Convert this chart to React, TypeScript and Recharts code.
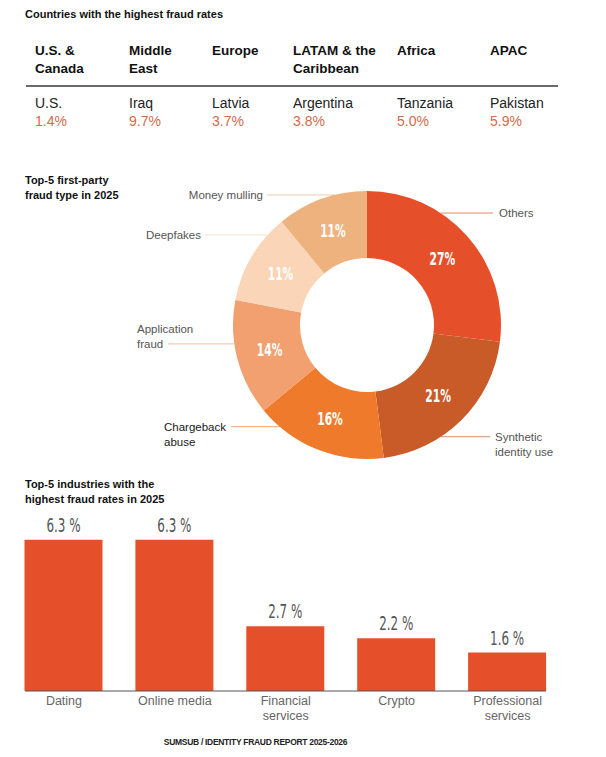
import { PieChart, Pie, Cell, BarChart, Bar, XAxis, YAxis, LabelList } from "recharts"

// Countries table
const regions = ["U.S. &\nCanada", "Middle\nEast", "Europe", "LATAM & the\nCaribbean", "Africa", "APAC"]
const topCountries = ["U.S.", "Iraq", "Latvia", "Argentina", "Tanzania", "Pakistan"]
const countryRates = [1.4, 9.7, 3.7, 3.8, 5.0, 5.9]

// Donut: first-party fraud types (%)
const fraudTypes = ["Others", "Synthetic identity use", "Chargeback abuse", "Application fraud", "Deepfakes", "Money mulling"]
const fraudShares = [27, 21, 16, 14, 11, 11]

// Bars: industries (%)
const industries = ["Dating", "Online media", "Financial services", "Crypto", "Professional services"]
const industryRates = [6.3, 6.3, 2.7, 2.2, 1.6]

const SANS = "'Liberation Sans', Arial, sans-serif"
const NARROW = "'DejaVu Sans Condensed', 'DejaVu Sans', sans-serif"
const BAR_COLOR = "#E5502A"
const SLICE_COLORS = ["#E5502A", "#C85B28", "#F07A2C", "#F2A070", "#FBD5B8", "#EEB27F"]
const COL_X = [35, 129, 212, 293, 397, 490]

// where each callout sits around the donut
const CALLOUTS = [
  { angle: 56.7, textX: 499, lineX: 493, anchor: "start", wrap: false, row: 0, color: "#555" },
  { angle: -56.5, textX: 495, lineX: 490, anchor: "start", wrap: true, row: 0, color: "#555" },
  { angle: 229.4, textX: 164, lineX: 231, anchor: "start", wrap: true, row: 0, color: "#1a1a1a" },
  { angle: 188.1, textX: 137, lineX: 168, anchor: "start", wrap: true, row: 1, color: "#555" },
  { angle: 137.8, textX: 201, lineX: 205, anchor: "end", wrap: false, row: 0, color: "#555" },
  { angle: 104, textX: 263, lineX: 267, anchor: "end", wrap: false, row: 0, color: "#555" },
]

const RAD = Math.PI / 180

const pieData = fraudTypes.map((name, i) => ({ name, value: fraudShares[i] }))
const barData = industries.map((name, i) => ({ name, value: industryRates[i] }))

function SliceLabel(props: any) {
  const { cx, cy, midAngle, innerRadius, outerRadius, index, name, value } = props
  const r = (innerRadius + outerRadius) / 2
  const x = cx + r * Math.cos(-midAngle * RAD)
  const y = cy + r * Math.sin(-midAngle * RAD)
  const c = CALLOUTS[index]
  const ly = cy - outerRadius * Math.sin(c.angle * RAD)
  const edgeX = cx + outerRadius * Math.cos(c.angle * RAD)
  const lines = c.wrap ? [name.slice(0, name.indexOf(" ")), name.slice(name.indexOf(" ") + 1)] : [name]
  return (
    <g>
      <text transform={`translate(${x},${y}) scale(0.7,1)`} fill="#fff" textAnchor="middle" dominantBaseline="central"
        fontFamily={NARROW} fontWeight={700} fontSize={17}>
        {value}%
      </text>
      <line x1={c.lineX} x2={edgeX} y1={ly} y2={ly} stroke={SLICE_COLORS[index]} strokeOpacity={0.7} strokeWidth={1} />
      {lines.map((t, k) => (
        <text key={k} x={c.textX} y={ly + (k - c.row) * 15} fill={c.color} textAnchor={c.anchor}
          dominantBaseline="central" fontFamily={SANS} fontSize={11.5}>
          {t}
        </text>
      ))}
    </g>
  )
}

function ValueLabel({ x, y, width, value }: any) {
  return (
    <text transform={`translate(${x + width / 2},${y - 8}) scale(0.7,1)`} textAnchor="middle"
      fill="#555" fontFamily={NARROW} fontSize={19}>
      {value} %
    </text>
  )
}

function IndustryTick({ x, y, payload }: any) {
  const name: string = payload.value
  const lines = name.includes(" services") ? [name.replace(" services", ""), "services"] : [name]
  return (
    <g>
      {lines.map((t, k) => (
        <text key={k} x={x} y={y + 8 + k * 15} textAnchor="middle" dominantBaseline="central"
          fill="#666" fontFamily={SANS} fontSize={12.5}>
          {t}
        </text>
      ))}
    </g>
  )
}

export default function App() {
  return (
    <div style={{ position: "absolute", left: 0, top: 0, width: 606, height: 757, background: "#fff", overflow: "hidden", fontFamily: SANS }}>
      <div style={{ position: "absolute", left: 25, top: 8, fontSize: 11, fontWeight: 700, color: "#111" }}>
        Countries with the highest fraud rates
      </div>

      {regions.map((r, i) => (
        <div key={r} style={{ position: "absolute", left: COL_X[i], top: 42, fontSize: 13.5, lineHeight: "17.5px", whiteSpace: "pre-line", color: "#111", fontWeight: 700 }}>
          {r}
        </div>
      ))}
      <div style={{ position: "absolute", left: 26, top: 85, width: 532, height: 1.5, background: "#6b6b6b" }} />
      {topCountries.map((c, i) => (
        <div key={c} style={{ position: "absolute", left: COL_X[i], top: 95, fontSize: 14, lineHeight: "17.5px", color: "#222" }}>
          {c}
          <div style={{ color: "#D26A4B" }}>{countryRates[i].toFixed(1)}%</div>
        </div>
      ))}

      <div style={{ position: "absolute", left: 25, top: 173, fontSize: 11, lineHeight: "15px", fontWeight: 700, color: "#111" }}>
        Top-5 first-party<br />fraud type in 2025
      </div>
      <div style={{ position: "absolute", left: 0, top: 160 }}>
        <PieChart width={606} height={310} margin={{ top: 0, right: 0, bottom: 0, left: 0 }}>
          <Pie data={pieData} dataKey="value" nameKey="name" cx={367} cy={165} innerRadius={67} outerRadius={134}
            startAngle={90} endAngle={-270} stroke="none" label={SliceLabel} labelLine={false} isAnimationActive={false}>
            {pieData.map((d, i) => (
              <Cell key={d.name} fill={SLICE_COLORS[i]} />
            ))}
          </Pie>
        </PieChart>
      </div>

      <div style={{ position: "absolute", left: 25, top: 477, fontSize: 11, lineHeight: "14.5px", fontWeight: 700, color: "#111" }}>
        Top-5 industries with the<br />highest fraud rates in 2025
      </div>
      <div style={{ position: "absolute", left: 0, top: 470 }}>
        <BarChart width={606} height={287} data={barData} margin={{ top: 53, right: 60, bottom: 36, left: 25 }}>
          <XAxis dataKey="name" interval={0} axisLine={{ stroke: "#555" }} tickLine={false} tickSize={0}
            padding={{ left: -16.5, right: -17 }} tick={<IndustryTick />} />
          <YAxis hide domain={[0, 7]} />
          <Bar dataKey="value" fill={BAR_COLOR} barSize={78} isAnimationActive={false}>
            <LabelList dataKey="value" content={<ValueLabel />} />
          </Bar>
        </BarChart>
      </div>

      <div style={{ position: "absolute", left: 0, width: 511, top: 737, textAlign: "center", fontSize: 8.5, fontWeight: 700, color: "#222", letterSpacing: -0.3 }}>
        SUMSUB / IDENTITY FRAUD REPORT 2025-2026
      </div>
    </div>
  )
}
